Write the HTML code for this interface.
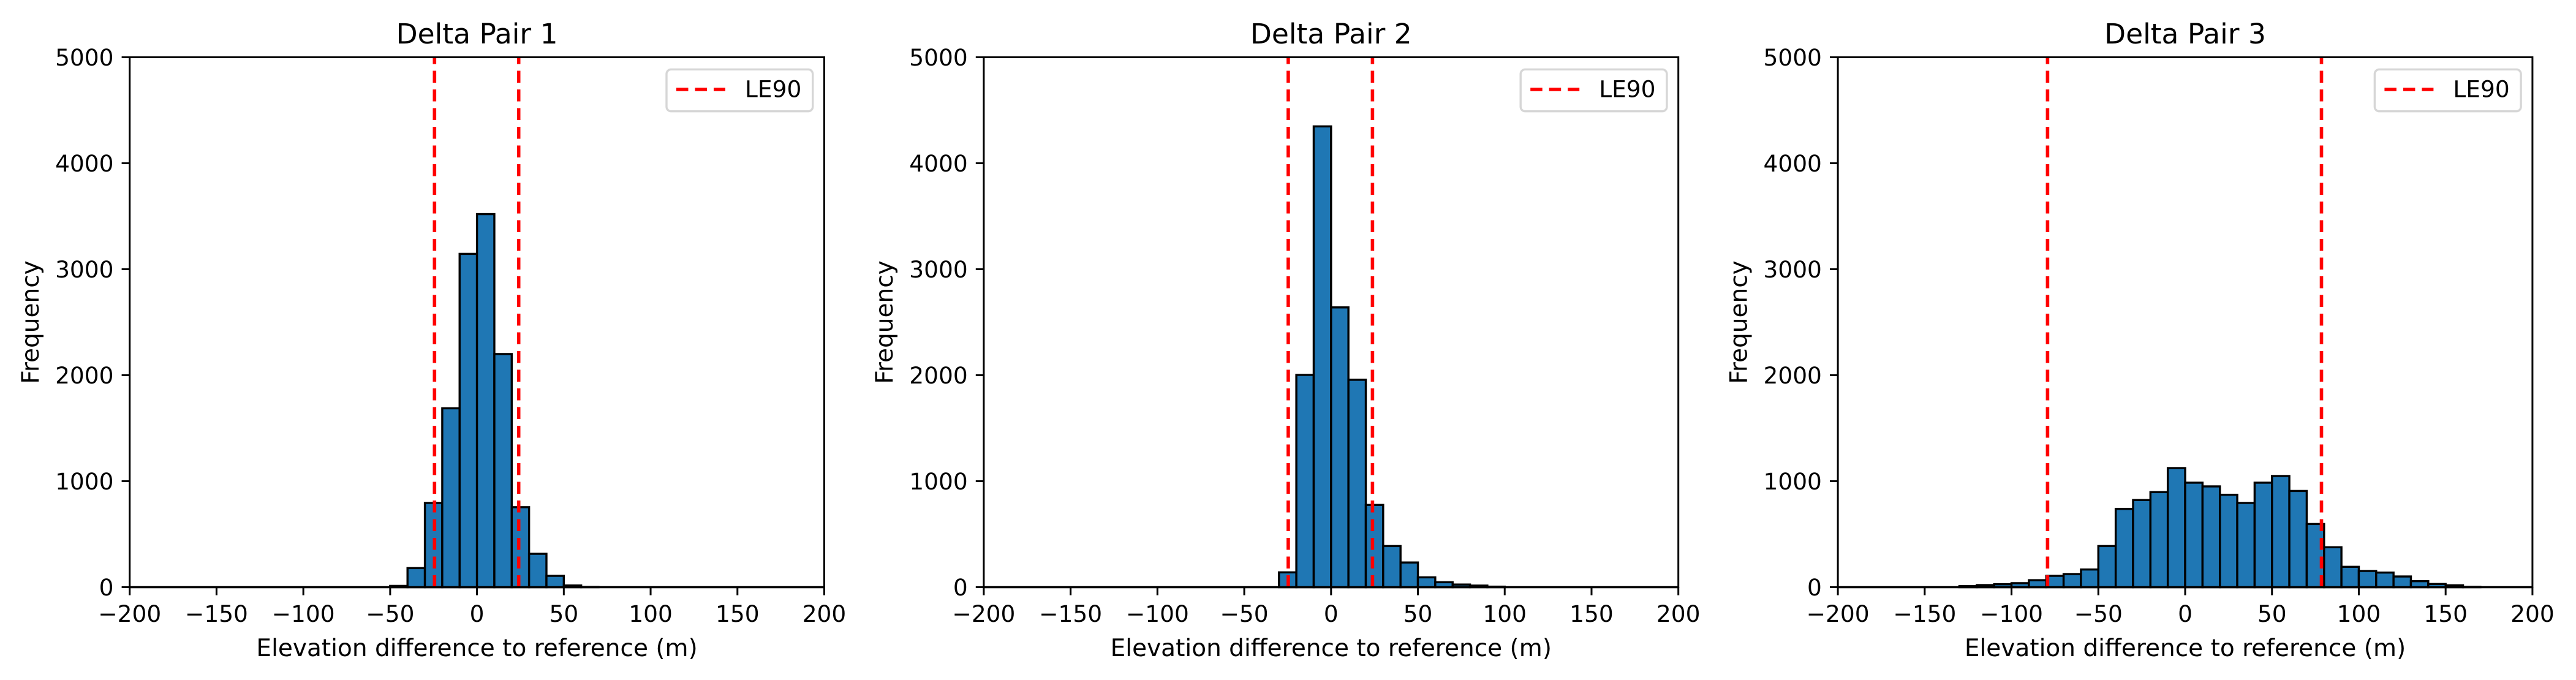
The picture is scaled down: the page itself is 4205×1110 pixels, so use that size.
<!DOCTYPE html>
<html><head><meta charset="utf-8"><style>
html,body{margin:0;padding:0;background:#fff;}
svg{display:block;}
text{font-family:"DejaVu Sans","Liberation Sans",sans-serif;fill:#000;}
.tk{font-size:37.5px;}
.lbl{font-size:39px;}
.ttl{font-size:45.5px;}
.bar rect{fill:#1f77b4;stroke:#000;stroke-width:3.4;}
.le{stroke:#ff0000;stroke-width:5.6;stroke-dasharray:19.5 11;fill:none;}
.sp{fill:none;stroke:#000;stroke-width:3;}
.tick line{stroke:#000;stroke-width:3;}
</style></head><body>
<svg width="4205" height="1110" viewBox="0 0 4205 1110" xmlns="http://www.w3.org/2000/svg">
<rect x="0" y="0" width="4205" height="1110" fill="#fff"/>
<defs>
<g id="axesfurniture">
  <rect class="sp" x="0" y="93.5" width="1133.8" height="865"/>
  <g class="tick">
    <line x1="-13.1" y1="958.5" x2="0" y2="958.5"/>
    <line x1="-13.1" y1="785.5" x2="0" y2="785.5"/>
    <line x1="-13.1" y1="612.5" x2="0" y2="612.5"/>
    <line x1="-13.1" y1="439.5" x2="0" y2="439.5"/>
    <line x1="-13.1" y1="266.5" x2="0" y2="266.5"/>
    <line x1="-13.1" y1="93.5" x2="0" y2="93.5"/>
    <line x1="0" y1="958.5" x2="0" y2="971.6"/>
    <line x1="141.73" y1="958.5" x2="141.73" y2="971.6"/>
    <line x1="283.45" y1="958.5" x2="283.45" y2="971.6"/>
    <line x1="425.18" y1="958.5" x2="425.18" y2="971.6"/>
    <line x1="566.9" y1="958.5" x2="566.9" y2="971.6"/>
    <line x1="708.63" y1="958.5" x2="708.63" y2="971.6"/>
    <line x1="850.35" y1="958.5" x2="850.35" y2="971.6"/>
    <line x1="992.08" y1="958.5" x2="992.08" y2="971.6"/>
    <line x1="1133.8" y1="958.5" x2="1133.8" y2="971.6"/>
  </g>
  <g class="tk" text-anchor="end">
    <text x="-26.2" y="972.2">0</text>
    <text x="-26.2" y="799.2">1000</text>
    <text x="-26.2" y="626.2">2000</text>
    <text x="-26.2" y="453.2">3000</text>
    <text x="-26.2" y="280.2">4000</text>
    <text x="-26.2" y="107.2">5000</text>
  </g>
  <g class="tk" text-anchor="middle">
    <text x="0" y="1015">−200</text>
    <text x="141.73" y="1015">−150</text>
    <text x="283.45" y="1015">−100</text>
    <text x="425.18" y="1015">−50</text>
    <text x="566.9" y="1015">0</text>
    <text x="708.63" y="1015">50</text>
    <text x="850.35" y="1015">100</text>
    <text x="992.08" y="1015">150</text>
    <text x="1133.8" y="1015">200</text>
  </g>
  <text class="lbl" x="566.9" y="1071" text-anchor="middle">Elevation difference to reference (m)</text>
  <text class="lbl" x="-148.7" y="526" text-anchor="middle" transform="rotate(-90 -148.7 526)">Frequency</text>
  <rect x="876.3" y="113.3" width="238.7" height="68.4" rx="7.5" ry="7.5" fill="#fff" stroke="#d6d6d6" stroke-width="3.4"/>
  <line class="le" x1="892.3" y1="146" x2="972.3" y2="146"/>
  <text class="tk" x="1004.3" y="158.3">LE90</text>
</g>
</defs>

<!-- Panel 1 -->
<g transform="translate(211.7,0)">
  <line x1="0" y1="958.5" x2="1133.8" y2="958.5" stroke="#000" stroke-width="3.6"/>
  <g class="bar">
    <rect x="425.18" y="956.42" width="28.35" height="2.08"/>
    <rect x="453.52" y="927.36" width="28.35" height="31.14"/>
    <rect x="481.87" y="820.96" width="28.35" height="137.54"/>
    <rect x="510.21" y="666.48" width="28.35" height="292.02"/>
    <rect x="538.56" y="414.41" width="28.35" height="544.09"/>
    <rect x="566.90" y="349.54" width="28.35" height="608.96"/>
    <rect x="595.25" y="577.90" width="28.35" height="380.60"/>
    <rect x="623.59" y="827.88" width="28.35" height="130.62"/>
    <rect x="651.94" y="904.00" width="28.35" height="54.50"/>
    <rect x="680.28" y="939.99" width="28.35" height="18.51"/>
    <rect x="708.63" y="955.73" width="28.35" height="2.77"/>
    <rect x="736.97" y="958.15" width="28.35" height="0.35"/>
  </g>
  <line class="le" x1="497.6" y1="958.5" x2="497.6" y2="93.5"/>
  <line class="le" x1="635" y1="958.5" x2="635" y2="93.5"/>
  <text class="ttl" x="566.9" y="71" text-anchor="middle">Delta Pair 1</text>
  <use href="#axesfurniture"/>
</g>

<!-- Panel 2 -->
<g transform="translate(1605.9,0)">
  <line x1="0" y1="958.5" x2="1133.8" y2="958.5" stroke="#000" stroke-width="3.6"/>
  <g class="bar">
    <rect x="481.87" y="934.28" width="28.35" height="24.22"/>
    <rect x="510.21" y="611.98" width="28.35" height="346.52"/>
    <rect x="538.56" y="206.30" width="28.35" height="752.20"/>
    <rect x="566.90" y="501.78" width="28.35" height="456.72"/>
    <rect x="595.25" y="619.94" width="28.35" height="338.56"/>
    <rect x="623.59" y="824.25" width="28.35" height="134.25"/>
    <rect x="651.94" y="891.38" width="28.35" height="67.12"/>
    <rect x="680.28" y="918.19" width="28.35" height="40.31"/>
    <rect x="708.63" y="942.41" width="28.35" height="16.09"/>
    <rect x="736.97" y="950.37" width="28.35" height="8.13"/>
    <rect x="765.32" y="954.17" width="28.35" height="4.33"/>
    <rect x="793.66" y="955.90" width="28.35" height="2.60"/>
    <rect x="822.01" y="957.63" width="28.35" height="0.87"/>
  </g>
  <line class="le" x1="497" y1="958.5" x2="497" y2="93.5"/>
  <line class="le" x1="634.5" y1="958.5" x2="634.5" y2="93.5"/>
  <text class="ttl" x="566.9" y="71" text-anchor="middle">Delta Pair 2</text>
  <use href="#axesfurniture"/>
</g>

<!-- Panel 3 -->
<g transform="translate(3000.1,0)">
  <line x1="0" y1="958.5" x2="1133.8" y2="958.5" stroke="#000" stroke-width="3.6"/>
  <g class="bar">
    <rect x="198.42" y="956.77" width="28.35" height="1.73"/>
    <rect x="226.76" y="955.04" width="28.35" height="3.46"/>
    <rect x="255.11" y="953.66" width="28.35" height="4.84"/>
    <rect x="283.45" y="951.93" width="28.35" height="6.57"/>
    <rect x="311.80" y="947.08" width="28.35" height="11.42"/>
    <rect x="340.14" y="939.99" width="28.35" height="18.51"/>
    <rect x="368.49" y="937.05" width="28.35" height="21.45"/>
    <rect x="396.83" y="929.61" width="28.35" height="28.89"/>
    <rect x="425.18" y="891.38" width="28.35" height="67.12"/>
    <rect x="453.52" y="830.65" width="28.35" height="127.85"/>
    <rect x="481.87" y="816.29" width="28.35" height="142.21"/>
    <rect x="510.21" y="803.32" width="28.35" height="155.18"/>
    <rect x="538.56" y="764.05" width="28.35" height="194.45"/>
    <rect x="566.90" y="787.92" width="28.35" height="170.58"/>
    <rect x="595.25" y="793.98" width="28.35" height="164.52"/>
    <rect x="623.59" y="807.64" width="28.35" height="150.86"/>
    <rect x="651.94" y="820.96" width="28.35" height="137.54"/>
    <rect x="680.28" y="787.92" width="28.35" height="170.58"/>
    <rect x="708.63" y="777.02" width="28.35" height="181.48"/>
    <rect x="736.97" y="801.42" width="28.35" height="157.08"/>
    <rect x="765.32" y="855.39" width="28.35" height="103.11"/>
    <rect x="793.66" y="893.28" width="28.35" height="65.22"/>
    <rect x="822.01" y="925.28" width="28.35" height="33.22"/>
    <rect x="850.35" y="932.03" width="28.35" height="26.47"/>
    <rect x="878.70" y="934.63" width="28.35" height="23.87"/>
    <rect x="907.04" y="941.03" width="28.35" height="17.47"/>
    <rect x="935.39" y="948.64" width="28.35" height="9.86"/>
    <rect x="963.73" y="953.31" width="28.35" height="5.19"/>
    <rect x="992.08" y="955.39" width="28.35" height="3.11"/>
    <rect x="1020.42" y="957.98" width="28.35" height="0.52"/>
  </g>
  <line class="le" x1="342.3" y1="958.5" x2="342.3" y2="93.5"/>
  <line class="le" x1="789.4" y1="958.5" x2="789.4" y2="93.5"/>
  <text class="ttl" x="566.9" y="71" text-anchor="middle">Delta Pair 3</text>
  <use href="#axesfurniture"/>
</g>
</svg>
</body></html>
